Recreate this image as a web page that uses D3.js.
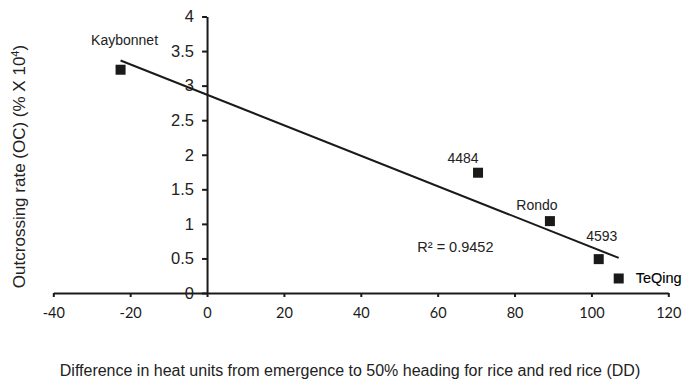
<!DOCTYPE html>
<html>
<head>
<meta charset="utf-8">
<script src="https://cdn.jsdelivr.net/npm/d3@7"></script>
<style>
  body { margin: 0; background: #fff; }
  svg { display: block; }
  .axis path, .axis line { stroke: #1a1a1a; stroke-width: 2; }
  .axis--y text { font-family: Arial, "Liberation Sans", sans-serif; font-size: 16.5px; fill: #222; }
  .axis--x text { font-family: Lato, "Open Sans", sans-serif; font-size: 14.5px; fill: #1a1a1a; }
  .point-label { font-family: Arial, "Liberation Sans", sans-serif; font-size: 14px; fill: #222; }
  .point-label.strong { fill: #000; font-size: 14.5px; stroke: #000; stroke-width: 0.12; }
  .title { font-family: Arial, "Liberation Sans", sans-serif; font-size: 16px; fill: #222; }
</style>
</head>
<body>
<div id="chart"></div>
<script>
// cultivar names and values
const cultivars = ['Kaybonnet', '4484', 'Rondo', '4593', 'TeQing'];
const heatUnits = [-22.5, 70.5, 89.2, 101.9, 107.1];
const outcrossing = [3.23, 1.74, 1.04, 0.49, 0.21];

const xTicks = [-40, -20, 0, 20, 40, 60, 80, 100, 120];
const yTicks = [0, 0.5, 1, 1.5, 2, 2.5, 3, 3.5, 4];
const r2Label = 'R² = 0.9452';

// label offsets from the marker (px)
const labelOffsets = {
  'Kaybonnet': { dx: 4, dy: -25, anchor: 'middle' },
  '4484': { dx: -15, dy: -10, anchor: 'middle' },
  'Rondo': { dx: -13, dy: -11, anchor: 'middle' },
  '4593': { dx: 3, dy: -18, anchor: 'middle' },
  'TeQing': { dx: 17, dy: 5, anchor: 'start' },
};

const width = 682;
const height = 382;

const data = cultivars.map((name, i) => ({ name, x: heatUnits[i], y: outcrossing[i] }));

const svg = d3.select('#chart')
  .append('svg')
  .attr('width', width)
  .attr('height', height);

const x = d3.scaleLinear()
  .domain([-40, 120])
  .range([53.3, 668.3]);

const y = d3.scaleLinear()
  .domain([0, 4])
  .range([293, 16.5]);

// x axis
svg.append('g')
  .attr('class', 'axis axis--x')
  .attr('transform', `translate(0, ${y(0)})`)
  .call(d3.axisBottom(x)
    .tickValues(xTicks)
    .tickFormat((d) => String(d))
    .tickSizeInner(4)
    .tickSizeOuter(0)
    .tickPadding(11));

// y axis
svg.append('g')
  .attr('class', 'axis axis--y')
  .attr('transform', `translate(${x(0)}, 0)`)
  .call(d3.axisLeft(y)
    .tickValues(yTicks)
    .tickFormat((d) => String(d))
    .tickSizeInner(5)
    .tickSizeOuter(0)
    .tickPadding(8));

// linear trendline (least squares)
const mx = d3.mean(data, (d) => d.x);
const my = d3.mean(data, (d) => d.y);
const slope = d3.sum(data, (d) => (d.x - mx) * (d.y - my)) / d3.sum(data, (d) => (d.x - mx) ** 2);
const intercept = my - slope * mx;
const xExt = d3.extent(data, (d) => d.x);

svg.append('line')
  .attr('x1', x(xExt[0]))
  .attr('y1', y(intercept + slope * xExt[0]))
  .attr('x2', x(xExt[1]))
  .attr('y2', y(intercept + slope * xExt[1]))
  .attr('stroke', '#1a1a1a')
  .attr('stroke-width', 2);

// markers
const size = 10;
svg.selectAll('.point')
  .data(data)
  .join('rect')
  .attr('class', 'point')
  .attr('x', (d) => x(d.x) - size / 2)
  .attr('y', (d) => y(d.y) - size / 2)
  .attr('width', size)
  .attr('height', size)
  .attr('fill', '#1a1a1a');

svg.selectAll('.point-label')
  .data(data)
  .join('text')
  .attr('class', (d) => (d.name === 'TeQing' ? 'point-label strong' : 'point-label'))
  .attr('x', (d) => x(d.x) + labelOffsets[d.name].dx)
  .attr('y', (d) => y(d.y) + labelOffsets[d.name].dy)
  .attr('text-anchor', (d) => labelOffsets[d.name].anchor)
  .text((d) => d.name);

svg.append('text')
  .attr('class', 'point-label')
  .attr('x', x(54.7))
  .attr('y', y(0.593))
  .style('font-size', '14.5px')
  .text(r2Label);

// axis titles
svg.append('text')
  .attr('class', 'title')
  .attr('x', 350)
  .attr('y', 376)
  .attr('text-anchor', 'middle')
  .text('Difference in heat units from emergence to 50% heading for rice and red rice (DD)');

const yTitle = svg.append('text')
  .attr('class', 'title')
  .attr('transform', 'translate(25, 166.5) rotate(-90)')
  .attr('text-anchor', 'middle')
  .style('font-size', '17px');
yTitle.append('tspan').text('Outcrossing rate (OC) (% X 10');
yTitle.append('tspan').attr('dy', -6).attr('font-size', '11px').text('4');
yTitle.append('tspan').attr('dy', 6).text(')');
</script>
</body>
</html>
